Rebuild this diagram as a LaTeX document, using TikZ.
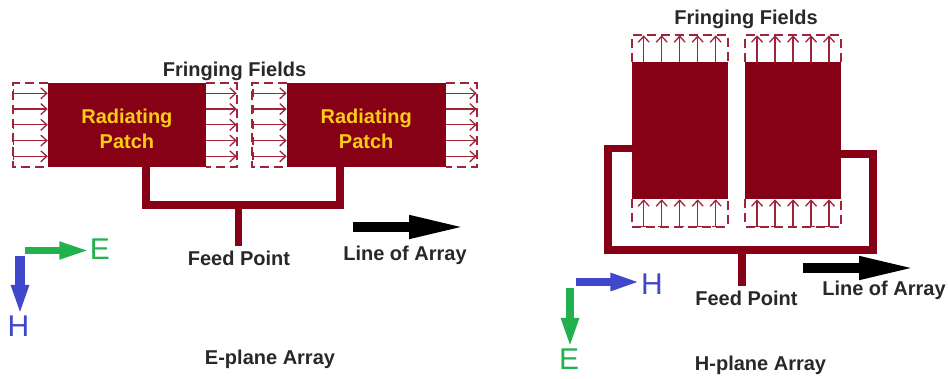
\documentclass[tikz,border=0pt]{standalone}
\usepackage{fontspec}
\setmainfont{Liberation Sans}
\usepackage{xcolor}
\usepackage{tikz}
\usetikzlibrary{arrows.meta,calc}
\definecolor{patchcol}{RGB}{134,0,22}
\definecolor{fringecol}{RGB}{160,35,58}
\definecolor{captcol}{RGB}{40,40,40}
\definecolor{patchtxt}{RGB}{250,205,20}
\definecolor{ecol}{RGB}{34,177,76}
\definecolor{hcol}{RGB}{63,72,204}

\tikzset{
  patch/.style={fill=patchcol, inner sep=0pt, outer sep=0pt},
  patchlabel/.style={text=patchtxt, align=center, font=\fontsize{20}{25}\selectfont\bfseries},
  fringeline/.style={fringecol, line width=1.8pt, dash pattern=on 9pt off 5pt},
  fieldin/.style={fringecol, line width=1.3pt, {Bar[width=8pt]}-{Straight Barb[length=6pt,width=11pt]}},
  fieldout/.style={fringecol, line width=1.3pt, -{Straight Barb[length=6pt,width=11pt]}},
  feedline/.style={patchcol, line width=7.5pt},
  caption/.style={text=captcol, anchor=base, inner sep=0pt, font=\fontsize{20}{24}\selectfont\bfseries},
  axislbl/.style={inner sep=0.5pt, font=\fontsize{30}{32}\selectfont},
  axisarrow/.style={line width=8pt, -{Triangle[length=30pt,width=16pt]}},
  bigarrow/.style={black, line width=10pt, -{Triangle[length=58pt,width=21pt]}}
}

\begin{document}
\begin{tikzpicture}[x=1pt, y=-1pt]

    \path[use as bounding box, fill=white] (0,0) rectangle (948,378);

    %% ---------------- E-plane array (left) ----------------
    \node[patch, minimum width=158.3pt, minimum height=84pt] (pA) at (126.9,125.3) {};
    \node[patch, minimum width=159pt, minimum height=84pt] (pB) at (366.2,125.3) {};
    \node[patchlabel] (tA) at ([yshift=-4pt]pA.center) {Radiating\\Patch};
    \node[patchlabel] (tB) at ([yshift=-4pt]pB.center) {Radiating\\Patch};

    %% Fringing fields at the radiating edges
    \foreach \p/\wl/\wr in {pA/34.6/30.7, pB/34.4/31} {
      \draw[fringeline] (\p.north west) -- ++(-\wl,0) -- ++(0,84) -- (\p.south west);
      \draw[fringeline] (\p.north east) -- ++(\wr,0) -- ++(0,84) -- (\p.south east);
      \foreach \i in {0,...,4} {
        \draw[fieldin] ($(\p.north west)+(-\wl,10+15.75*\i)$) -- ++(\wl,0);
        \draw[fieldout] ($(\p.north east)+(0,10+15.75*\i)$) -- ++(\wr,0);
      }
    }
    \node[caption] (ffA) at (234.5,76) {Fringing Fields};

    %% Feed network
    \node[caption, outer ysep=5.5pt] (fpA) at (239,265.5) {Feed Point};
    \coordinate (jA) at (238.7,205);
    \draw[feedline] ([xshift=19pt]pA.south) |- (jA) -| ([xshift=-26pt]pB.south);
    \draw[feedline] (jA) -- (jA |- fpA.north);

    %% Line of array
    \draw[bigarrow] (353,227) -- (467,227);
    \node[caption] (loaA) at (405,260) {Line of Array};

    %% Field directions
    \node[axislbl, ecol] (eA) at (100,249) {E};
    \node[axislbl, hcol] (hA) at (18.5,326) {H};
    \coordinate (oAe) at (25,250.5);
    \coordinate (oAh) at (20,256);
    \draw[axisarrow, ecol, line width=7pt] (oAe) -- (oAe -| eA.west);
    \draw[axisarrow, hcol, line width=10pt] (oAh) -- (oAh |- hA.north);

    \node[caption] (titleA) at (270,364) {E-plane Array};

    %% ---------------- H-plane array (right) ----------------
    \node[patch, minimum width=96pt, minimum height=137pt] (pC) at (679.7,130.8) {};
    \node[patch, minimum width=95.7pt, minimum height=137pt] (pD) at (792.9,130.8) {};

    %% Fringing fields at the radiating edges
    \foreach \p in {pC, pD} {
      \draw[fringeline] (\p.north west) -- ++(0,-27) -- ($(\p.north east)+(0,-27)$) -- (\p.north east);
      \draw[fringeline] (\p.south west) -- ++(0,27.5) -- ($(\p.south east)+(0,27.5)$) -- (\p.south east);
      \foreach \i in {0,...,4} {
        \draw[fieldout] ($(\p.north west)+(12+18*\i,0)$) -- ++(0,-27);
        \draw[fieldin] ($(\p.south west)+(12+18*\i,27.5)$) -- ++(0,-27.5);
      }
    }
    \node[caption] (ffB) at (746,24) {Fringing Fields};

    %% Feed network
    \node[caption, outer ysep=5.5pt] (fpB) at (746.5,305.5) {Feed Point};
    \coordinate (cL) at (608,250);
    \coordinate (cR) at (873,250);
    \coordinate (jB) at (742,250);
    \draw[feedline] ([yshift=-17.5pt]pC.west) -| (cL) -- (cR) |- ([yshift=-23pt]pD.east);
    \draw[feedline] (jB) -- (jB |- fpB.north);

    %% Line of array
    \draw[bigarrow] (803,268) -- (917,268);
    \node[caption] (loaB) at (884,295) {Line of Array};

    %% Field directions
    \node[axislbl, hcol] (hB) at (652,284) {H};
    \node[axislbl, ecol] (eB) at (569,359) {E};
    \coordinate (oBh) at (576,282);
    \coordinate (oBe) at (570,288);
    \draw[axisarrow, hcol] (oBh) -- (oBh -| hB.west);
    \draw[axisarrow, ecol] (oBe) -- (oBe |- eB.north);

    \node[caption] (titleB) at (760.5,370.5) {H-plane Array};

  \end{tikzpicture}
\end{document}
